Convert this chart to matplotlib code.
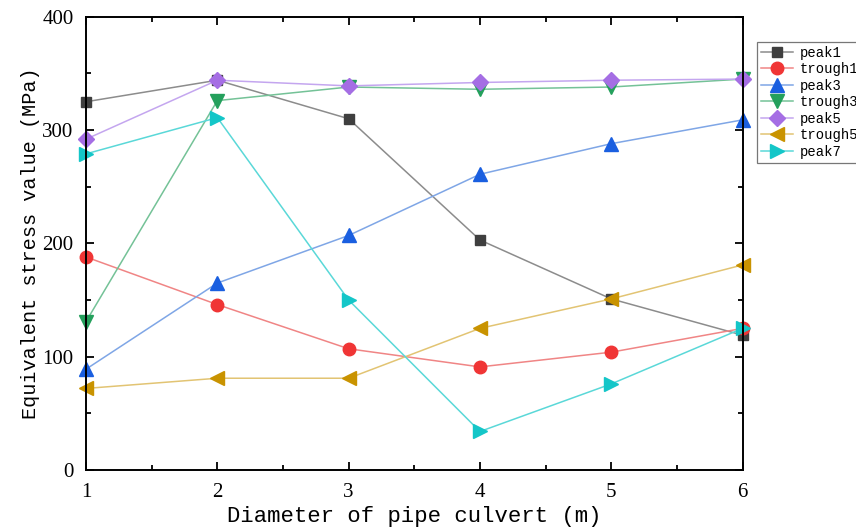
import matplotlib
matplotlib.use('Agg')
import matplotlib.pyplot as plt
from matplotlib.ticker import MultipleLocator

# diameters of the pipe culvert (m)
diameter = [1, 2, 3, 4, 5, 6]

# equivalent stress values (MPa)
peak1 = [325, 344, 310, 203, 151, 119]
trough1 = [188, 146, 107, 91, 104, 125]
peak3 = [89, 165, 207, 261, 288, 309]
trough3 = [131, 326, 338, 336, 338, 345]
peak5 = [292, 344, 339, 342, 344, 345]
trough5 = [72, 81, 81, 125, 151, 181]
peak7 = [279, 311, 150, 34, 76, 125]

names = ['peak1', 'trough1', 'peak3', 'trough3', 'peak5', 'trough5', 'peak7']
markers = ['s', 'o', '^', 'v', 'D', '<', '>']
sizes = [7.5, 9, 9.5, 9.5, 8.5, 9.5, 9.5]
# (line colour, marker colour)
colors = [('#8c8c8c', '#3f3f3f'),
          ('#f08585', '#f03535'),
          ('#7fa6e6', '#1a5fe0'),
          ('#74c297', '#24a05c'),
          ('#c4a6ef', '#a56ee4'),
          ('#e2c473', '#c99300'),
          ('#5ad8d8', '#14c6c8')]
series = [peak1, trough1, peak3, trough3, peak5, trough5, peak7]

fig = plt.figure(figsize=(8.56, 5.32), dpi=100)
ax = fig.add_axes([0.1005, 0.1165, 0.767, 0.852])

for name, vals, m, ms, (lc, mc) in zip(names, series, markers, sizes, colors):
    ax.plot(diameter, vals, color=lc, lw=1.1, marker=m, markersize=ms,
            markerfacecolor=mc, markeredgecolor=mc, label=name, clip_on=False)

ax.set_xlim(1, 6)
ax.set_ylim(0, 400)
ax.xaxis.set_major_locator(MultipleLocator(1))
ax.xaxis.set_minor_locator(MultipleLocator(0.5))
ax.yaxis.set_major_locator(MultipleLocator(100))
ax.yaxis.set_minor_locator(MultipleLocator(50))
ax.tick_params(which='both', direction='in', top=True, right=True, width=1.3)
ax.tick_params(which='major', length=6, labelsize=15, pad=9)
ax.tick_params(which='minor', length=3.5)
for lab in ax.get_xticklabels() + ax.get_yticklabels():
    lab.set_fontfamily('Liberation Serif')
for s in ax.spines.values():
    s.set_linewidth(1.4)

ax.set_xlabel('Diameter of pipe culvert (m)', fontsize=16,
              family='Liberation Mono', labelpad=3)
ax.set_ylabel('Equivalent stress value (MPa)', fontsize=14.5,
              family='Liberation Mono', labelpad=2)

leg = ax.legend(loc='upper left', bbox_to_anchor=(1.022, 0.945),
                prop={'family': 'Liberation Mono', 'size': 10},
                frameon=True, fancybox=False, edgecolor='#555555',
                borderpad=0.3, labelspacing=0.18, handlelength=2.3,
                handletextpad=0.45, borderaxespad=0)
leg.get_frame().set_linewidth(0.9)

fig.savefig('out.png', dpi=100)
